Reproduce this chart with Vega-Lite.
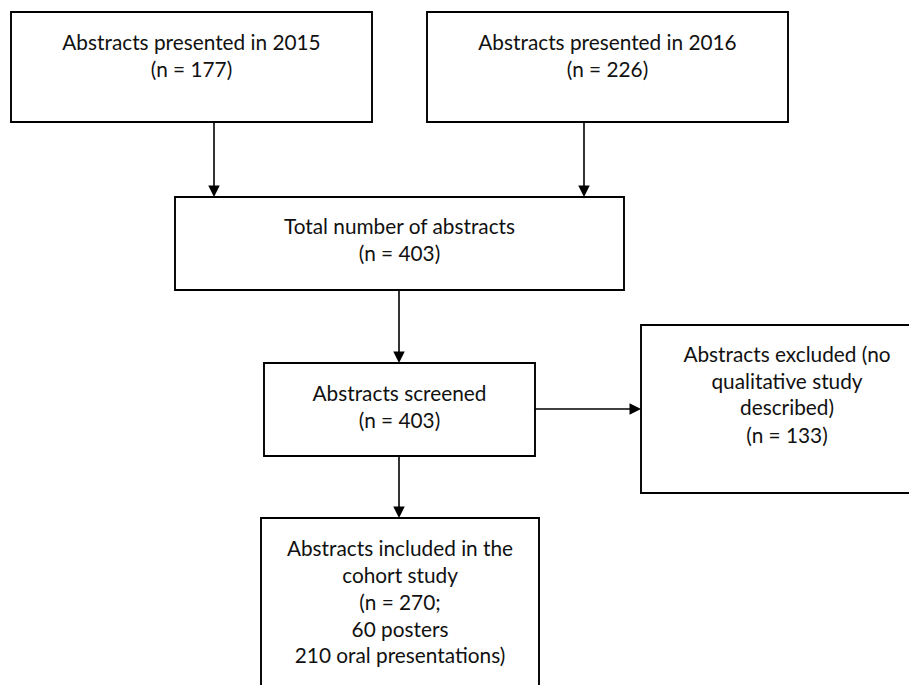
{
  "$schema": "https://vega.github.io/schema/vega-lite/v6.json",
  "autosize": {"type": "fit", "contains": "padding"},
  "width": 909,
  "height": 685,
  "padding": 0,
  "background": "white",
  "config": {"view": {"stroke": null}},
  "datasets": {
    "boxes": [
      {"box": "2015", "x": 11, "x2": 372, "y": 12, "y2": 122},
      {"box": "2016", "x": 427, "x2": 788, "y": 12, "y2": 122},
      {"box": "total", "x": 175, "x2": 624, "y": 197, "y2": 290},
      {"box": "screened", "x": 264, "x2": 535, "y": 363, "y2": 456},
      {"box": "excluded", "x": 641, "x2": 940, "y": 325, "y2": 493},
      {"box": "included", "x": 261, "x2": 539, "y": 518, "y2": 700}
    ],
    "arrows": [
      {"x": 214, "y": 122, "x2": 214, "y2": 190},
      {"x": 584, "y": 122, "x2": 584, "y2": 190},
      {"x": 399, "y": 290, "x2": 399, "y2": 356},
      {"x": 535, "y": 409, "x2": 634, "y2": 409},
      {"x": 399, "y": 456, "x2": 399, "y2": 511}
    ],
    "heads": [
      {"x": 214, "y": 197, "dir": "down"},
      {"x": 584, "y": 197, "dir": "down"},
      {"x": 399, "y": 363, "dir": "down"},
      {"x": 641, "y": 409, "dir": "right"},
      {"x": 399, "y": 518, "dir": "down"}
    ],
    "labels": [
      {"x": 191.5, "y": 50, "text": "Abstracts presented in 2015"},
      {"x": 191.5, "y": 77, "text": "(n = 177)"},
      {"x": 607.5, "y": 50, "text": "Abstracts presented in 2016"},
      {"x": 607.5, "y": 77, "text": "(n = 226)"},
      {"x": 399.5, "y": 234, "text": "Total number of abstracts"},
      {"x": 399.5, "y": 261, "text": "(n = 403)"},
      {"x": 399.5, "y": 401, "text": "Abstracts screened"},
      {"x": 399.5, "y": 428, "text": "(n = 403)"},
      {"x": 787, "y": 362, "text": "Abstracts excluded (no"},
      {"x": 787, "y": 389, "text": "qualitative study"},
      {"x": 787, "y": 415, "text": "described)"},
      {"x": 787, "y": 443, "text": "(n = 133)"},
      {"x": 400, "y": 556, "text": "Abstracts included in the"},
      {"x": 400, "y": 583, "text": "cohort study"},
      {"x": 400, "y": 610, "text": "(n = 270;"},
      {"x": 400, "y": 637, "text": "60 posters"},
      {"x": 400, "y": 663, "text": "210 oral presentations)"}
    ]
  },
  "layer": [
    {
      "data": {"name": "boxes"},
      "mark": {"type": "rect", "fill": "white", "stroke": "#000000", "strokeWidth": 1.9, "clip": true},
      "encoding": {
        "x": {"field": "x", "type": "quantitative", "scale": {"domain": [0, 909], "nice": false, "zero": false}, "axis": null},
        "x2": {"field": "x2"},
        "y": {"field": "y", "type": "quantitative", "scale": {"domain": [0, 685], "nice": false, "zero": false, "reverse": true}, "axis": null},
        "y2": {"field": "y2"}
      }
    },
    {
      "data": {"name": "arrows"},
      "mark": {"type": "rule", "color": "#000000", "strokeWidth": 1.6},
      "encoding": {
        "x": {"field": "x", "type": "quantitative", "scale": {"domain": [0, 909], "nice": false, "zero": false}, "axis": null},
        "x2": {"field": "x2"},
        "y": {"field": "y", "type": "quantitative", "scale": {"domain": [0, 685], "nice": false, "zero": false, "reverse": true}, "axis": null},
        "y2": {"field": "y2"}
      }
    },
    {
      "data": {"name": "heads"},
      "transform": [{"filter": "datum.dir === 'down'"}],
      "mark": {"type": "point", "shape": "M-0.5,-1L0.5,-1L0,0Z", "filled": true, "color": "#000000", "opacity": 1, "size": 529},
      "encoding": {
        "x": {"field": "x", "type": "quantitative", "scale": {"domain": [0, 909], "nice": false, "zero": false}, "axis": null},
        "y": {"field": "y", "type": "quantitative", "scale": {"domain": [0, 685], "nice": false, "zero": false, "reverse": true}, "axis": null}
      }
    },
    {
      "data": {"name": "heads"},
      "transform": [{"filter": "datum.dir === 'right'"}],
      "mark": {"type": "point", "shape": "M-1,-0.5L-1,0.5L0,0Z", "filled": true, "color": "#000000", "opacity": 1, "size": 529},
      "encoding": {
        "x": {"field": "x", "type": "quantitative", "scale": {"domain": [0, 909], "nice": false, "zero": false}, "axis": null},
        "y": {"field": "y", "type": "quantitative", "scale": {"domain": [0, 685], "nice": false, "zero": false, "reverse": true}, "axis": null}
      }
    },
    {
      "data": {"name": "labels"},
      "mark": {"type": "text", "font": "Lato", "fontSize": 20.8, "color": "#111111", "align": "center", "baseline": "alphabetic"},
      "encoding": {
        "x": {"field": "x", "type": "quantitative", "scale": {"domain": [0, 909], "nice": false, "zero": false}, "axis": null},
        "y": {"field": "y", "type": "quantitative", "scale": {"domain": [0, 685], "nice": false, "zero": false, "reverse": true}, "axis": null},
        "text": {"field": "text"}
      }
    }
  ]
}
